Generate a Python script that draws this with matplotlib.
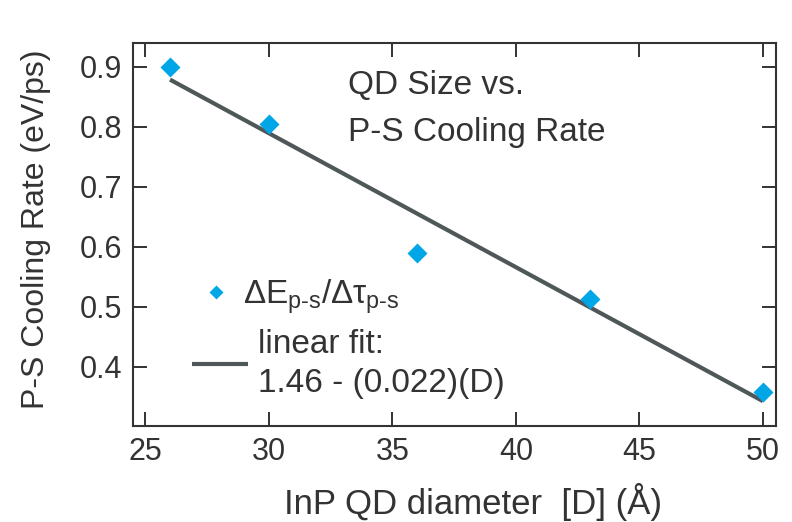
import numpy as np
import matplotlib
matplotlib.use('Agg')
import matplotlib.pyplot as plt
from matplotlib.legend import Legend

# QD diameter (Angstrom) and measured P-S cooling rate (eV/ps)
diameter = [26, 30, 36, 43, 50]
rate = [0.900, 0.805, 0.589, 0.512, 0.358]

xticks = [25, 30, 35, 40, 45, 50]
yticks = [0.4, 0.5, 0.6, 0.7, 0.8, 0.9]

plt.rcParams['font.family'] = ['Liberation Sans', 'DejaVu Sans']
plt.rcParams['mathtext.fontset'] = 'custom'
plt.rcParams['mathtext.rm'] = 'Liberation Sans'
plt.rcParams['mathtext.it'] = 'Liberation Sans'
ink = '#333333'

fig = plt.figure(figsize=(7.92, 5.22), dpi=100)
ax = fig.add_axes([0.1679, 0.1839, 0.8119, 0.7337])

# linear fit of the data
slope, icpt = np.polyfit(diameter, rate, 1)
xfit = np.array([diameter[0], diameter[-1]])
fit_line, = ax.plot(xfit, icpt + slope * xfit, color='#4f5759', lw=3,
                    solid_capstyle='butt', zorder=2)
pts, = ax.plot(diameter, rate, 'D', color='#00a6e6', ms=10, mec='none', zorder=3)

ax.set_xlim(24.5, 50.53)
ax.set_ylim(0.301, 0.9395)
ax.set_xticks(xticks)
ax.set_yticks(yticks)
ax.tick_params(direction='in', length=10, width=1.4, color=ink,
               top=True, right=True, labelsize=22, labelcolor=ink, pad=8)
for s in ax.spines.values():
    s.set_linewidth(1.5)
    s.set_color(ink)

ax.set_xlabel('InP QD diameter  [D] (Å)', fontsize=25, color=ink)
ax.xaxis.set_label_coords(0.529, -0.148)
ax.set_ylabel('P-S Cooling Rate (eV/ps)', fontsize=23, color=ink)
ax.yaxis.set_label_coords(-0.128, 0.513)

ax.text(0.334, 0.93, 'QD Size vs.\nP-S Cooling Rate', transform=ax.transAxes,
        fontsize=24, color=ink, va='top', ha='left', linespacing=1.66)

leg1 = Legend(ax, [pts], [r'$\Delta$E$_{\rm p\text{-}s}$/$\Delta\tau_{\rm p\text{-}s}$'],
              loc='center left', bbox_to_anchor=(0.1025, 0.337), frameon=False,
              fontsize=24, borderpad=0, borderaxespad=0, handlelength=1.05,
              handletextpad=0.27, markerscale=0.75, labelcolor=ink)
ax.add_artist(leg1)
leg2 = ax.legend([fit_line], ['linear fit:\n1.46 - (0.022)(D)'], loc='center left',
                 bbox_to_anchor=(0.092, 0.162), frameon=False, fontsize=24,
                 borderpad=0, borderaxespad=0, handlelength=1.68,
                 handletextpad=0.3, labelcolor=ink)
for t in leg2.get_texts():
    t.set_linespacing(1.37)

fig.savefig('out.png', dpi=100)
